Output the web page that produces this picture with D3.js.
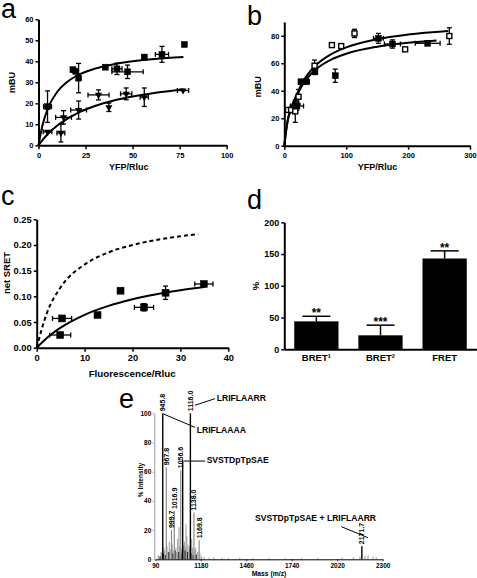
<!DOCTYPE html>
<html><head><meta charset="utf-8">
<script src="https://cdn.jsdelivr.net/npm/d3@7"></script>
<style>
body{margin:0;background:#fff;}
svg{display:block;font-family:"Liberation Sans",Arial,Helvetica,sans-serif;}
</style></head><body>
<svg id="c" width="477" height="578"></svg>
<script>
// ---------- Panel a ----------
const aX1 = [4.8, 18.3, 19.8, 21.3, 35.5, 41.7, 47.3, 56.2, 65.6, 77.5];
const aY1 = [18.4, 36, 35.2, 32, 37.2, 36.4, 35, 42, 43.3, 48];
const aYErr1 = [7.5, 1, 1, 7, 0.8, 2.7, 3.2, 0.8, 3.8, 0.8];
const aXErr1 = [2.1, 1, 1, 1, 1, 2.7, 8.3, 1, 3.5, 0];
const aX2 = [4.8, 11.9, 13.3, 21.3, 31.9, 37.4, 46.6, 56.2, 76.8];
const aY2 = [6.4, 5.9, 13.3, 16.8, 24, 18.1, 24.5, 22.9, 26.1];
const aYErr2 = [0, 4.3, 3.2, 4.3, 2.4, 2, 2.8, 4.4, 0];
const aXErr2 = [2.3, 2.1, 4.2, 4.2, 5.6, 0, 3, 2.2, 3];
const aFitX = [0, 2, 5, 10, 15, 20, 30, 40, 50, 60, 70, 77];
const aFit1 = [0, 9.1, 17.6, 25.5, 30.0, 33.0, 36.5, 38.6, 40.0, 41.0, 41.7, 42.1];
const aFit2 = [0, 2.4, 5.4, 9.4, 12.5, 15.0, 18.7, 21.3, 23.2, 24.7, 25.9, 26.7];
const aXTicks = [0, 25, 50, 75, 100];
const aYTicks = [0, 10, 20, 30, 40, 50, 60];

// ---------- Panel b ----------
const bX1 = [6, 11, 17.7, 23, 48.9, 76.9, 91.9, 113.4, 195.2, 266.6];
const bY1 = [26, 26, 25, 35.6, 58.2, 73.2, 72.5, 81.7, 70.1, 79.8];
const bYErr1 = [0, 0, 8, 5.3, 4.1, 0, 0, 3, 0, 6];
const bXErr1 = [0, 0, 0, 0, 0, 0, 0, 0, 0, 0];
const bX2 = [20.4, 26.9, 35.5, 49.5, 82.3, 152, 174.7, 231.7];
const bY2 = [28.9, 46.5, 46.5, 53.8, 50.9, 78.1, 74, 74.5];
const bYErr2 = [3, 0, 0, 2, 4.8, 3.6, 3, 0];
const bXErr2 = [10.7, 0, 5, 0, 0, 8, 13, 20];
const bFitX1 = [0, 3, 6, 10, 20, 30, 50, 75, 100, 150, 200, 265];
const bFit1 = [0, 11, 19.5, 26, 37.2, 46.5, 58.1, 66.4, 71.5, 77.5, 80.9, 83.5];
const bFitX2 = [0, 3, 6, 10, 20, 30, 50, 75, 100, 150, 200, 246];
const bFit2 = [0, 11, 19.5, 25.5, 36.2, 44.7, 55.2, 62.5, 66.9, 72.0, 74.9, 76.6];
const bXTicks = [0, 100, 200, 300];
const bYTicks = [0, 20, 40, 60, 80];

// ---------- Panel c ----------
const cX = [4.9, 5.3, 12.7, 17.5, 22.4, 26.9, 34.9];
const cY = [0.0247, 0.057, 0.0637, 0.111, 0.0786, 0.107, 0.124];
const cYErr = [0.003, 0.005, 0.004, 0.004, 0.007, 0.013, 0.003];
const cXErr = [2.2, 2, 0, 0, 2, 0, 1.9];
const cFitX = [0, 2, 5, 10, 15, 20, 25, 30, 35];
const cFit = [0, 0.018, 0.039, 0.064, 0.0814, 0.0942, 0.104, 0.1117, 0.118];
const cDashX = [0, 2, 5, 10, 15, 20, 25, 30, 33.7];
const cDash = [0, 0.0644, 0.1176, 0.162, 0.1856, 0.2, 0.2098, 0.217, 0.221];
const cXTicks = [0, 10, 20, 30, 40];
const cYTicks = [0, 0.05, 0.10, 0.15, 0.20, 0.25];

// ---------- Panel d ----------
const dCats = ["BRET¹", "BRET²", "FRET"];
const dVals = [44, 22, 143];
const dErr = [8, 16, 12];
const dStars = ["**", "***", "**"];
const dYTicks = [0, 50, 100, 150, 200];

// ---------- Panel e ----------
const eMainMass = [945.8, 967.8, 999.7, 1016.9, 1056.6, 1068.5, 1116.0, 1138.0, 1169.8, 2171.7];
const eMainInt  = [100, 63, 20, 33, 61, 68, 100, 32, 13, 9];
const eMainCol  = ["k", "g", "g", "g", "g", "k", "k", "g", "g", "k"];
const eMainLbl  = ["945.8", "967.8", "999.7", "1016.9", "1056.6", "", "1116.0", "1138.0", "1169.8", "2171.7"];
const eGrayMass = [918, 925, 935, 940, 953, 958, 972, 978, 986, 992, 1004, 1010, 1027, 1032, 1038, 1046, 1050, 1062, 1074, 1079, 1085, 1089, 1094, 1101, 1106, 1110, 1124, 1130, 1144, 1149, 1155, 1162, 1175, 1185, 1200, 1230, 1260, 1310, 1350, 1420, 1500, 1600, 1700, 1800, 1900, 2050, 2120, 2160, 2190, 2210, 2240, 2260];
const eGrayInt  = [3, 2, 5, 4, 8, 6, 9, 5, 12, 7, 10, 6, 8, 5, 14, 22, 9, 7, 10, 12, 8, 24, 16, 10, 6, 9, 14, 8, 6, 8, 4, 5, 4, 2, 1.5, 1, 1.2, 1, 0.8, 1, 0.8, 1, 0.8, 1, 1, 1, 1.5, 2, 2.5, 3, 2, 1.5];
const eBlackMass = [930, 950, 962, 983, 1008, 1022, 1044, 1060, 1083, 1098, 1120, 1133, 1152];
const eBlackInt  = [2, 4, 3, 5, 4, 6, 5, 4, 6, 5, 4, 3, 3];
const eXTicks = [900, 1180, 1460, 1740, 2020, 2300];
const eXTickLbl = ["90", "1180", "1460", "1740", "2020", "2300"];
const eYTicks = [0, 20, 40, 60, 80, 100];
const eNoteText = ["LRIFLAARR", "LRIFLAAAA", "SVSTDpTpSAE", "SVSTDpTpSAE + LRIFLAARR"];
const eNoteMass = [1278, 1155, 1216, 1514];
const eNoteInt  = [108.7, 86.5, 66.3, 26.3];
const eLineFrom = [[1144, 105.5], [949, 99.6], [1077, 67.3], [2045, 22.4]];
const eLineTo   = [[1267, 110], [1144, 90.4], [1206, 67.3], [2209, 14.8]];

// ================= drawing =================
const svg = d3.select("#c");
const FONT = '"Liberation Sans",Arial,Helvetica,sans-serif';

function styleAxis(g, fs, lw) {
  g.attr("font-family", FONT).attr("font-size", fs).attr("font-weight", "bold");
  g.select("path.domain").attr("stroke", "#000").attr("stroke-width", lw);
  g.selectAll(".tick line").attr("stroke", "#000").attr("stroke-width", lw * 0.75);
  g.selectAll(".tick text").attr("fill", "#000");
}

function letter(t, x, y) {
  svg.append("text").attr("x", x).attr("y", y).text(t)
    .attr("font-family", FONT).attr("font-size", 27).attr("fill", "#000");
}

function title(t, x, y, fs, rot) {
  const tx = svg.append("text").text(t).attr("font-family", FONT)
    .attr("font-size", fs).attr("font-weight", "bold").attr("fill", "#000")
    .attr("text-anchor", "middle");
  if (rot) tx.attr("transform", `translate(${x},${y}) rotate(-90)`).attr("dominant-baseline", "central");
  else tx.attr("x", x).attr("y", y);
}

function errorBars(g, x, y, xs, ys, yerr, xerr, cap) {
  xs.forEach((v, i) => {
    const px = x(v), py = y(ys[i]);
    if (yerr[i] > 0) {
      const y1 = y(ys[i] + yerr[i]), y2 = y(ys[i] - yerr[i]);
      g.append("line").attr("x1", px).attr("x2", px).attr("y1", y1).attr("y2", y2);
      g.append("line").attr("x1", px - cap).attr("x2", px + cap).attr("y1", y1).attr("y2", y1);
      g.append("line").attr("x1", px - cap).attr("x2", px + cap).attr("y1", y2).attr("y2", y2);
    }
    if (xerr[i] > 0) {
      const x1 = x(v - xerr[i]), x2 = x(v + xerr[i]);
      g.append("line").attr("x1", x1).attr("x2", x2).attr("y1", py).attr("y2", py);
      g.append("line").attr("x1", x1).attr("x2", x1).attr("y1", py - cap).attr("y2", py + cap);
      g.append("line").attr("x1", x2).attr("x2", x2).attr("y1", py - cap).attr("y2", py + cap);
    }
  });
  g.attr("stroke", "#000").attr("stroke-width", 1.3);
}

function fitLine(x, y, xs, ys, dash) {
  const line = d3.line().x(d => x(d[0])).y(d => y(d[1])).curve(d3.curveMonotoneX);
  const p = svg.append("path").datum(xs.map((v, i) => [v, ys[i]]))
    .attr("d", line).attr("fill", "none").attr("stroke", "#000").attr("stroke-width", 2);
  if (dash) p.attr("stroke-dasharray", "4,3");
}

function squares(x, y, xs, ys, s, open) {
  svg.append("g").selectAll("rect").data(xs).join("rect")
    .attr("x", (d) => x(d) - s / 2).attr("y", (d, i) => y(ys[i]) - s / 2)
    .attr("width", s).attr("height", s)
    .attr("fill", open ? "#fff" : "#000").attr("stroke", "#000").attr("stroke-width", open ? 1.4 : 0.5);
}

function triangles(x, y, xs, ys, size) {
  svg.append("g").selectAll("path").data(xs).join("path")
    .attr("d", d3.symbol().type(d3.symbolTriangle).size(size))
    .attr("transform", (d, i) => `translate(${x(d)},${y(ys[i])}) rotate(180)`)
    .attr("fill", "#000");
}

function xyAxes(x, y, xt, yt, fs, yfmt, xfmt) {
  const gx = svg.append("g").attr("transform", `translate(0,${y.range()[0]})`)
    .call(d3.axisBottom(x).tickValues(xt).tickSize(4).tickSizeOuter(0).tickPadding(3).tickFormat(xfmt || d3.format("d")));
  styleAxis(gx, fs, 2);
  const gy = svg.append("g").attr("transform", `translate(${x.range()[0]},0)`)
    .call(d3.axisLeft(y).tickValues(yt).tickSize(3).tickSizeOuter(0).tickPadding(2).tickFormat(yfmt || d3.format("d")));
  styleAxis(gy, fs, 2);
}

// ---- Panel a ----
{
  const x = d3.scaleLinear().domain([0, 100]).range([38.5, 226.7]);
  const y = d3.scaleLinear().domain([0, 60]).range([145.3, 19.3]);
  xyAxes(x, y, aXTicks, aYTicks, 7.5);
  fitLine(x, y, aFitX, aFit1);
  fitLine(x, y, aFitX, aFit2);
  errorBars(svg.append("g"), x, y, aX1, aY1, aYErr1, aXErr1, 2.5);
  errorBars(svg.append("g"), x, y, aX2, aY2, aYErr2, aXErr2, 2.5);
  squares(x, y, aX1, aY1, 6);
  triangles(x, y, aX2, aY2, 22);
  letter("a", 1, 18);
  title("mBU", 12, 82.5, 9, true);
  title("YFP/Rluc", 128.7, 170, 9);
}

// ---- Panel b ----
{
  const x = d3.scaleLinear().domain([0, 300]).range([284.3, 470]);
  const y = d3.scaleLinear().domain([0, 90]).range([145.7, 22]);
  xyAxes(x, y, bXTicks, bYTicks, 7.5);
  fitLine(x, y, bFitX1, bFit1);
  fitLine(x, y, bFitX2, bFit2);
  errorBars(svg.append("g"), x, y, bX1, bY1, bYErr1, bXErr1, 2.5);
  errorBars(svg.append("g"), x, y, bX2, bY2, bYErr2, bXErr2, 2.5);
  squares(x, y, bX2, bY2, 6);
  squares(x, y, bX1, bY1, 5, true);
  letter("b", 247, 25);
  title("mBU", 258, 86.7, 9, true);
  title("YFP/Rluc", 377.5, 170, 9);
}

// ---- Panel c ----
{
  const x = d3.scaleLinear().domain([0, 40]).range([36.7, 228.3]);
  const y = d3.scaleLinear().domain([0, 0.25]).range([347.7, 219.3]);
  xyAxes(x, y, cXTicks, cYTicks, 9.3, d3.format(".2f"));
  fitLine(x, y, cDashX, cDash, true);
  fitLine(x, y, cFitX, cFit);
  errorBars(svg.append("g"), x, y, cX, cY, cYErr, cXErr, 2.5);
  squares(x, y, cX, cY, 7);
  letter("c", 1, 205);
  title("net SRET", 6, 273, 9.5, true);
  title("Fluorescence/Rluc", 132.2, 376.7, 9.8);
}

// ---- Panel d ----
{
  const x = d3.scaleBand().domain(dCats).range([284.3, 476.7]).paddingInner(0.31).paddingOuter(0.155);
  const y = d3.scaleLinear().domain([0, 200]).range([349.3, 222.3]);
  const g = svg.append("g");
  g.selectAll("rect").data(dCats).join("rect")
    .attr("x", d => x(d)).attr("width", x.bandwidth())
    .attr("y", (d, i) => y(dVals[i])).attr("height", (d, i) => y(0) - y(dVals[i]))
    .attr("fill", "#000");
  const eg = svg.append("g").attr("stroke", "#000").attr("stroke-width", 1.5);
  dCats.forEach((c, i) => {
    const cx = x(c) + x.bandwidth() / 2;
    eg.append("line").attr("x1", cx).attr("x2", cx).attr("y1", y(dVals[i])).attr("y2", y(dVals[i] + dErr[i]));
    eg.append("line").attr("x1", cx - 14).attr("x2", cx + 14).attr("y1", y(dVals[i] + dErr[i])).attr("y2", y(dVals[i] + dErr[i]));
    svg.append("text").attr("x", cx).attr("y", y(dVals[i] + dErr[i]) + 1).text(dStars[i])
      .attr("text-anchor", "middle").attr("font-family", FONT).attr("font-size", 12).attr("font-weight", "bold");
  });
  const gx = svg.append("g").attr("transform", `translate(0,${y(0)})`)
    .call(d3.axisBottom(x).tickSize(0).tickSizeOuter(0).tickPadding(5));
  styleAxis(gx, 9.5, 2);
  const gy = svg.append("g").attr("transform", `translate(${x.range()[0]},0)`)
    .call(d3.axisLeft(y).tickValues(dYTicks).tickSize(3).tickSizeOuter(0).tickPadding(2));
  styleAxis(gy, 9, 2);
  letter("d", 247, 209);
  title("%", 255, 286, 9.5, true);
}

// ---- Panel e ----
{
  const x = d3.scaleLinear().domain([900, 2300]).range([155.3, 382.7]);
  const y = d3.scaleLinear().domain([0, 100]).range([559.3, 413.3]);
  const pg = svg.append("g").attr("stroke-width", 1);
  pg.selectAll("line.g").data(eGrayMass).join("line").attr("class", "g")
    .attr("x1", d => x(d)).attr("x2", d => x(d)).attr("y1", y(0)).attr("y2", (d, i) => y(eGrayInt[i]))
    .attr("stroke", "#9a9a9a");
  pg.selectAll("line.b").data(eBlackMass).join("line").attr("class", "b")
    .attr("x1", d => x(d)).attr("x2", d => x(d)).attr("y1", y(0)).attr("y2", (d, i) => y(eBlackInt[i]))
    .attr("stroke", "#222");
  pg.selectAll("line.m").data(eMainMass).join("line").attr("class", "m")
    .attr("x1", d => x(d)).attr("x2", d => x(d)).attr("y1", y(0)).attr("y2", (d, i) => y(eMainInt[i]))
    .attr("stroke", (d, i) => eMainCol[i] === "k" ? "#000" : "#8a8a8a").attr("stroke-width", (d, i) => eMainCol[i] === "k" ? 1.4 : 1.2);
  eMainMass.forEach((m, i) => {
    if (!eMainLbl[i]) return;
    svg.append("text").text(eMainLbl[i])
      .attr("transform", `translate(${x(m) + 2.5},${y(eMainInt[i]) - 2}) rotate(-90)`)
      .attr("font-family", FONT).attr("font-size", 7).attr("font-weight", "bold").attr("fill", "#000");
  });
  const lg = svg.append("g").attr("stroke", "#000").attr("stroke-width", 1);
  eLineFrom.forEach((f, i) => {
    lg.append("line").attr("x1", x(f[0])).attr("y1", y(f[1])).attr("x2", x(eLineTo[i][0])).attr("y2", y(eLineTo[i][1]));
  });
  eNoteText.forEach((t, i) => {
    svg.append("text").text(t).attr("x", x(eNoteMass[i])).attr("y", y(eNoteInt[i]))
      .attr("font-family", FONT).attr("font-size", 8.6).attr("font-weight", "bold").attr("fill", "#000");
  });
  const gx = svg.append("g").attr("transform", `translate(0,${y(0)})`)
    .call(d3.axisBottom(x).tickValues(eXTicks).tickSize(2).tickSizeOuter(0).tickPadding(2)
      .tickFormat((d, i) => eXTickLbl[i]));
  styleAxis(gx, 6.5, 1);
  const gy = svg.append("g").attr("transform", `translate(${x.range()[0] - 1},0)`)
    .call(d3.axisLeft(y).tickValues(eYTicks).tickSize(2).tickSizeOuter(0).tickPadding(1));
  styleAxis(gy, 6.5, 1);
  gy.select("path.domain").attr("stroke", "#999");
  gy.selectAll(".tick line").attr("stroke", "#999");
  letter("e", 119, 408);
  title("% Intensity", 140, 480, 6.5, true);
  title("Mass (m/z)", 269, 576, 6.8);
}
</script>
</body></html>
